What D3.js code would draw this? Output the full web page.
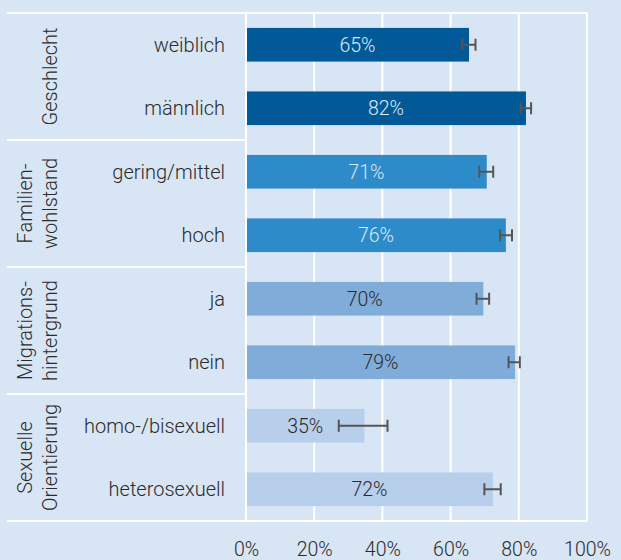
<!DOCTYPE html>
<html>
<head>
<meta charset="utf-8">
<style>
  body { margin: 0; background: #d8e5f4; }
  svg { display: block; font-family: Roboto, "Noto Sans", sans-serif; font-weight: 300; }
</style>
</head>
<body>
<svg id="chart"></svg>
<script src="https://cdn.jsdelivr.net/npm/d3@7/dist/d3.min.js"></script>
<script>

  // data
  var groups = ["Geschlecht", "Familienwohlstand", "Migrationshintergrund", "Sexuelle Orientierung"];
  var groupLabels = [["Geschlecht"], ["Familien-", "wohlstand"], ["Migrations-", "hintergrund"], ["Sexuelle", "Orientierung"]];
  var categories = ["weiblich", "männlich", "gering/mittel", "hoch", "ja", "nein", "homo-/bisexuell", "heterosexuell"];
  var categoryGroup = [0, 0, 1, 1, 2, 2, 3, 3];
  var values = [65.4, 82.1, 70.6, 76.2, 69.6, 78.9, 34.7, 72.4];
  var ciLow = [63.4, 80.5, 68.4, 74.5, 67.6, 77.0, 27.2, 69.9];
  var ciHigh = [67.3, 83.6, 72.5, 78.0, 71.3, 80.3, 41.5, 74.7];
  var ticks = [0, 20, 40, 60, 80, 100];

  var groupColors = ["#015a97", "#2c8bc8", "#80acd9", "#b7cfeb"];
  var labelColors = ["#dce8f5", "#dce8f5", "#2b2b2b", "#2b2b2b"];

  var width = 621, height = 560;
  var plotLeft = 246, plotRight = 587, plotTop = 13, plotBottom = 521, panelLeft = 7;

  var svg = d3.select("#chart")
    .attr("width", width)
    .attr("height", height);

  var x = d3.scaleLinear().domain([0, 100]).range([plotLeft, plotRight]);
  var y = d3.scaleBand().domain(categories).range([plotTop, plotBottom]).paddingInner(0.47).paddingOuter(0.235);
  var yGroup = d3.scaleBand().domain(groups).range([plotTop, plotBottom]);

  // vertical grid lines
  svg.append("g").selectAll("line")
    .data(ticks)
    .enter().append("line")
    .attr("x1", function(d) { return x(d); })
    .attr("x2", function(d) { return x(d); })
    .attr("y1", plotTop)
    .attr("y2", plotBottom)
    .attr("stroke", "#fff")
    .attr("stroke-width", 2);

  // horizontal frame lines between groups
  var seps = [plotTop].concat(groups.map(function(g) { return yGroup(g) + yGroup.bandwidth(); }));
  svg.append("g").selectAll("line")
    .data(seps)
    .enter().append("line")
    .attr("x1", panelLeft)
    .attr("x2", function(d, i) { return (i === 0 || i === seps.length - 1) ? plotRight : plotLeft; })
    .attr("y1", function(d) { return d; })
    .attr("y2", function(d) { return d; })
    .attr("stroke", "#fff")
    .attr("stroke-width", 2);

  // bars
  svg.append("g").selectAll("rect")
    .data(values)
    .enter().append("rect")
    .attr("x", x(0) + 1)
    .attr("y", function(d, i) { return y(categories[i]); })
    .attr("width", function(d) { return x(d) - x(0) - 1; })
    .attr("height", y.bandwidth())
    .attr("fill", function(d, i) { return groupColors[categoryGroup[i]]; });

  // value labels
  svg.append("g").selectAll("text")
    .data(values)
    .enter().append("text")
    .attr("x", function(d) { return (x(0) + x(d)) / 2; })
    .attr("y", function(d, i) { return y(categories[i]) + y.bandwidth() / 2; })
    .attr("dy", "0.36em")
    .attr("text-anchor", "middle")
    .attr("font-size", 19.5)
    .attr("fill", function(d, i) { return labelColors[categoryGroup[i]]; })
    .text(function(d) { return Math.round(d) + "%"; });

  // error bars
  var err = svg.append("g")
    .attr("stroke", "#555")
    .attr("stroke-width", 2);
  categories.forEach(function(c, i) {
    var cy = y(c) + y.bandwidth() / 2;
    err.append("line")
      .attr("x1", x(ciLow[i])).attr("x2", x(ciHigh[i]))
      .attr("y1", cy).attr("y2", cy);
    [ciLow[i], ciHigh[i]].forEach(function(v) {
      err.append("line")
        .attr("x1", x(v)).attr("x2", x(v))
        .attr("y1", cy - 6).attr("y2", cy + 6);
    });
  });

  // category labels
  svg.append("g").selectAll("text")
    .data(categories)
    .enter().append("text")
    .attr("x", 225)
    .attr("y", function(d) { return y(d) + y.bandwidth() / 2; })
    .attr("dy", "0.36em")
    .attr("text-anchor", "end")
    .attr("font-size", 20)
    .attr("fill", "#2b2b2b")
    .text(function(d) { return d; });

  // rotated group labels
  groups.forEach(function(g, i) {
    var lines = groupLabels[i];
    var cy = yGroup(g) + yGroup.bandwidth() / 2;
    var t = svg.append("text")
      .attr("transform", "translate(57," + cy + ") rotate(-90)")
      .attr("text-anchor", "middle")
      .attr("font-size", 20)
      .attr("fill", "#2b2b2b");
    lines.forEach(function(line, j) {
      t.append("tspan")
        .attr("x", 0)
        .attr("y", (j - (lines.length - 1)) * 25)
        .text(line);
    });
  });

  // x axis
  var axis = d3.axisBottom(x)
    .tickValues(ticks)
    .tickSize(0)
    .tickPadding(0)
    .tickFormat(function(d) { return d + "%"; });
  var ax = svg.append("g")
    .attr("transform", "translate(0," + 556 + ")")
    .call(axis);
  ax.select(".domain").remove();
  ax.selectAll("text")
    .attr("dy", 0)
    .attr("font-size", 19.5)
    .attr("font-family", "Roboto, 'Noto Sans', sans-serif")
    .attr("font-weight", 300)
    .attr("fill", "#2b2b2b");

</script>
</body>
</html>
